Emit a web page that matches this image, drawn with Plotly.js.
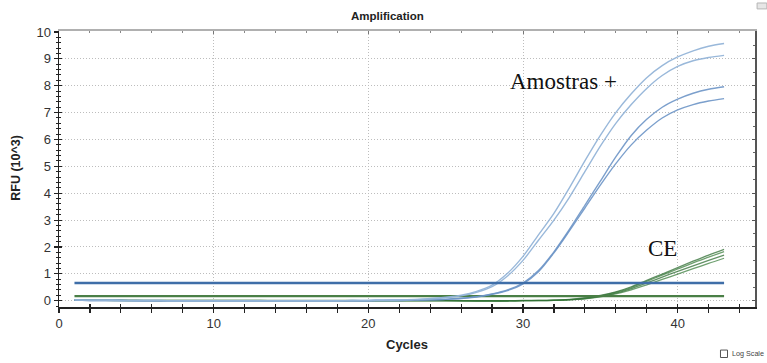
<!DOCTYPE html>
<html>
<head>
<meta charset="utf-8">
<script src="https://cdn.plot.ly/plotly-3.0.1.min.js"></script>
<style>
  html, body { margin: 0; padding: 0; background: #fff; }
  #chart { width: 767px; height: 363px; }
</style>
</head>
<body>
<div id="chart"></div>
<script>
// qPCR amplification run: RFU (x10^3) per cycle
const cycles = [1,2,3,4,5,6,7,8,9,10,11,12,13,14,15,16,17,18,19,20,21,22,23,24,25,26,27,28,29,30,31,32,33,34,35,36,37,38,39,40,41,42,43];

// positive samples ("Amostras +")
const posA = [0.03,0.02,0.02,0.01,0.01,0.01,0.00,0.00,0.00,0.00,0.00,0.00,0.00,0.00,0.00,0.00,0.00,0.00,0.01,0.01,0.02,0.03,0.05,0.08,0.13,0.21,0.35,0.58,1.02,1.65,2.45,3.25,4.20,5.20,6.15,7.00,7.70,8.30,8.75,9.07,9.30,9.47,9.57];
const posB = [0.03,0.02,0.02,0.01,0.01,0.01,0.00,0.00,0.00,0.00,0.00,0.00,0.00,0.00,0.00,0.00,0.00,0.00,0.01,0.01,0.02,0.03,0.04,0.07,0.11,0.18,0.31,0.52,0.92,1.50,2.25,3.00,3.85,4.80,5.75,6.60,7.30,7.90,8.38,8.72,8.93,9.05,9.13];
const posC = [0.02,0.01,0.01,0.01,0.00,0.00,0.00,0.00,0.00,0.00,0.00,0.00,0.00,0.00,0.00,0.00,0.00,0.00,0.00,0.00,0.01,0.01,0.02,0.03,0.05,0.09,0.15,0.25,0.40,0.66,1.12,1.82,2.65,3.55,4.45,5.35,6.15,6.75,7.20,7.50,7.72,7.87,7.96];
const posD = [0.02,0.01,0.01,0.01,0.00,0.00,0.00,0.00,0.00,0.00,0.00,0.00,0.00,0.00,0.00,0.00,0.00,0.00,0.00,0.00,0.01,0.01,0.02,0.03,0.05,0.08,0.14,0.24,0.38,0.63,1.08,1.78,2.60,3.45,4.30,5.10,5.80,6.35,6.80,7.10,7.30,7.43,7.52];

// internal control ("CE")
const ce1 = [0.03,0.02,0.02,0.02,0.01,0.01,0.01,0.01,0.01,0.01,0.01,0.01,0.01,0.01,0.01,0.01,0.01,0.01,0.01,0.00,0.00,0.00,0.00,0.00,0.00,0.00,0.00,0.00,0.00,0.01,0.01,0.02,0.05,0.11,0.20,0.33,0.52,0.76,0.99,1.23,1.47,1.70,1.91];
const ce2 = [0.02,0.02,0.01,0.01,0.01,0.01,0.01,0.01,0.01,0.01,0.01,0.01,0.01,0.00,0.00,0.00,0.00,0.00,0.00,0.00,0.00,0.00,0.00,0.00,0.00,0.00,0.00,0.00,0.00,0.00,0.01,0.02,0.04,0.09,0.18,0.31,0.49,0.72,0.95,1.18,1.41,1.62,1.83];
const ce3 = [0.02,0.01,0.01,0.01,0.01,0.00,0.00,0.00,0.00,0.00,0.00,0.00,0.00,0.00,0.00,0.00,0.00,0.00,0.00,0.00,0.00,0.00,0.00,0.00,0.00,0.00,-0.01,-0.01,-0.01,0.00,0.00,0.01,0.04,0.08,0.16,0.28,0.45,0.66,0.88,1.09,1.30,1.50,1.70];
const ce4 = [0.01,0.01,0.01,0.00,0.00,0.00,0.00,0.00,0.00,0.00,0.00,0.00,0.00,0.00,0.00,0.00,0.00,0.00,0.00,0.00,0.00,0.00,0.00,0.00,0.00,-0.01,-0.01,-0.01,-0.01,0.00,0.00,0.01,0.03,0.07,0.14,0.25,0.40,0.59,0.79,0.99,1.19,1.39,1.58];

// threshold levels
const thresholdSample = 0.66;
const thresholdControl = 0.17;
const thresholdSpan = [1, 43];

const xTickVals = [0, 10, 20, 30, 40];
const yTickVals = [0, 1, 2, 3, 4, 5, 6, 7, 8, 9, 10];

const xRange = [0, 45];
const yRange = [-0.234, 10.037];

const sansFont = 'Liberation Sans, Arial, sans-serif';
const serifFont = 'Liberation Serif, Times New Roman, serif';

function curve(y, color, width, opacity) {
  return {
    x: cycles, y: y, type: 'scatter', mode: 'lines',
    line: { color: color, width: width, shape: 'spline', smoothing: 0.8 },
    opacity: opacity, hoverinfo: 'skip'
  };
}

function hline(level, color, width) {
  return {
    x: thresholdSpan, y: [level, level], type: 'scatter', mode: 'lines',
    line: { color: color, width: width }, hoverinfo: 'skip'
  };
}

// empty traces that bring the overlay frame axes into being
function frameHolder(xa, ya) {
  return { x: [], y: [], xaxis: xa, yaxis: ya, type: 'scatter', mode: 'lines', hoverinfo: 'skip' };
}

const traces = [
  curve(ce4, '#3f8040', 1.3, 0.75),
  curve(ce3, '#2f6e33', 1.3, 0.75),
  curve(ce2, '#3f8040', 1.3, 0.75),
  curve(ce1, '#2f6e33', 1.3, 0.75),
  hline(thresholdControl, '#4a7f46', 2.2),
  curve(posD, '#6d95c6', 1.4, 0.9),
  curve(posC, '#6d95c6', 1.4, 0.9),
  curve(posB, '#94b4d8', 1.4, 0.95),
  curve(posA, '#94b4d8', 1.4, 0.95),
  hline(thresholdSample, '#3f6ea8', 2.4),
  frameHolder('x2', 'y2'),
  frameHolder('x3', 'y3')
];

const gridDash = '1px,2px';

const layout = {
  width: 767, height: 363,
  margin: { l: 59, r: 12, t: 31, b: 56 },
  paper_bgcolor: '#ffffff', plot_bgcolor: '#ffffff',
  showlegend: false,
  font: { family: sansFont, color: '#333' },
  xaxis: {
    range: xRange, zeroline: false, fixedrange: true,
    tickmode: 'array', tickvals: xTickVals, ticktext: xTickVals.map(String),
    ticks: 'outside', ticklen: 4, tickwidth: 1.2, tickcolor: '#222',
    minor: { dtick: 2, tick0: 0, ticks: 'outside', ticklen: 4, tickwidth: 1.2, tickcolor: '#222', showgrid: false },
    showline: true, linecolor: '#222', linewidth: 1.5,
    showgrid: true, gridcolor: '#bdbdbd', griddash: gridDash, gridwidth: 1,
    tickfont: { size: 13, color: '#333', family: sansFont }
  },
  yaxis: {
    range: yRange, zeroline: false, fixedrange: true,
    tickmode: 'array', tickvals: yTickVals, ticktext: yTickVals.map(String),
    ticks: 'outside', ticklen: 4, tickwidth: 1.2, tickcolor: '#222',
    minor: { dtick: 0.2, tick0: 0, ticks: 'outside', ticklen: 2, tickwidth: 1, tickcolor: '#222', showgrid: false },
    showline: true, linecolor: '#222', linewidth: 1.5,
    showgrid: true, gridcolor: '#bdbdbd', griddash: gridDash, gridwidth: 1,
    tickfont: { size: 13, color: '#333', family: sansFont }
  },
  // inner halves of the bottom/left ticks (ticks cross the axis line)
  xaxis2: {
    overlaying: 'x', anchor: 'y2', side: 'bottom',
    range: xRange, zeroline: false, fixedrange: true,
    tickmode: 'array', tickvals: xTickVals,
    ticks: 'inside', ticklen: 3, tickwidth: 1.2, tickcolor: '#222',
    minor: { dtick: 2, tick0: 0, ticks: 'inside', ticklen: 3, tickwidth: 1.2, tickcolor: '#222', showgrid: false },
    showticklabels: false, showgrid: false, showline: false
  },
  yaxis2: {
    overlaying: 'y', anchor: 'x2', side: 'left',
    range: yRange, zeroline: false, fixedrange: true,
    tickmode: 'array', tickvals: yTickVals,
    ticks: 'inside', ticklen: 3, tickwidth: 1.2, tickcolor: '#222',
    minor: { dtick: 0.2, tick0: 0, ticks: 'inside', ticklen: 2, tickwidth: 1, tickcolor: '#222', showgrid: false },
    showticklabels: false, showgrid: false, showline: false
  },
  // top and right frame with small inward ticks
  xaxis3: {
    overlaying: 'x', anchor: 'y3', side: 'top',
    range: xRange, zeroline: false, fixedrange: true,
    tickmode: 'array', tickvals: xTickVals,
    ticks: 'inside', ticklen: 3, tickwidth: 1, tickcolor: '#777',
    minor: { dtick: 2, tick0: 0, ticks: 'inside', ticklen: 2, tickwidth: 1, tickcolor: '#888', showgrid: false },
    showticklabels: false, showgrid: false,
    showline: true, linecolor: '#b0b0b0', linewidth: 2
  },
  yaxis3: {
    overlaying: 'y', anchor: 'x3', side: 'right',
    range: yRange, zeroline: false, fixedrange: true,
    tickmode: 'array', tickvals: yTickVals,
    ticks: 'inside', ticklen: 3, tickwidth: 1, tickcolor: '#555',
    minor: { dtick: 0.5, tick0: 0, ticks: 'inside', ticklen: 2, tickwidth: 1, tickcolor: '#666', showgrid: false },
    showticklabels: false, showgrid: false,
    showline: true, linecolor: '#555', linewidth: 1.5
  },
  annotations: [
    { text: '<b>Amplification</b>', xref: 'paper', yref: 'paper', x: 0.4727, y: 1.0543,
      xanchor: 'center', yanchor: 'middle', showarrow: false,
      font: { family: sansFont, size: 11.5, color: '#222' } },
    { text: '<b>RFU (10^3)</b>', xref: 'paper', yref: 'paper', x: -0.063, y: 0.505,
      xanchor: 'center', yanchor: 'middle', textangle: -90, showarrow: false,
      font: { family: sansFont, size: 12.5, color: '#222' } },
    { text: '<b>Cycles</b>', xref: 'paper', yref: 'paper', x: 0.4993, y: -0.136,
      xanchor: 'center', yanchor: 'middle', showarrow: false,
      font: { family: sansFont, size: 13, color: '#222' } },
    { text: 'Amostras +', xref: 'x', yref: 'y', x: 32.6, y: 8.15,
      xanchor: 'center', yanchor: 'middle', showarrow: false,
      font: { family: serifFont, size: 23, color: '#111' } },
    { text: 'CE', xref: 'x', yref: 'y', x: 39.0, y: 1.95,
      xanchor: 'center', yanchor: 'middle', showarrow: false,
      font: { family: serifFont, size: 23, color: '#111' } },
    { text: 'Log Scale', xref: 'paper', yref: 'paper', x: 0.9655, y: -0.170,
      xanchor: 'left', yanchor: 'middle', showarrow: false, borderpad: 0,
      font: { family: sansFont, size: 7.2, color: '#444' } }
  ],
  shapes: [
    // "Log Scale" checkbox
    { type: 'rect', xref: 'paper', yref: 'paper', x0: 0.9504, x1: 0.9605, y0: -0.183, y1: -0.156,
      line: { color: '#555', width: 1 }, fillcolor: '#ffffff' },
    // toolbar button at the top-right corner
    { type: 'rect', xref: 'paper', yref: 'paper', x0: 1.0030, x1: 1.0170, y0: 1.080, y1: 1.1015,
      line: { color: '#b5b5b5', width: 1 }, fillcolor: '#e6e6e6' }
  ]
};

Plotly.newPlot('chart', traces, layout, { staticPlot: true, displayModeBar: false });
</script>
</body>
</html>
